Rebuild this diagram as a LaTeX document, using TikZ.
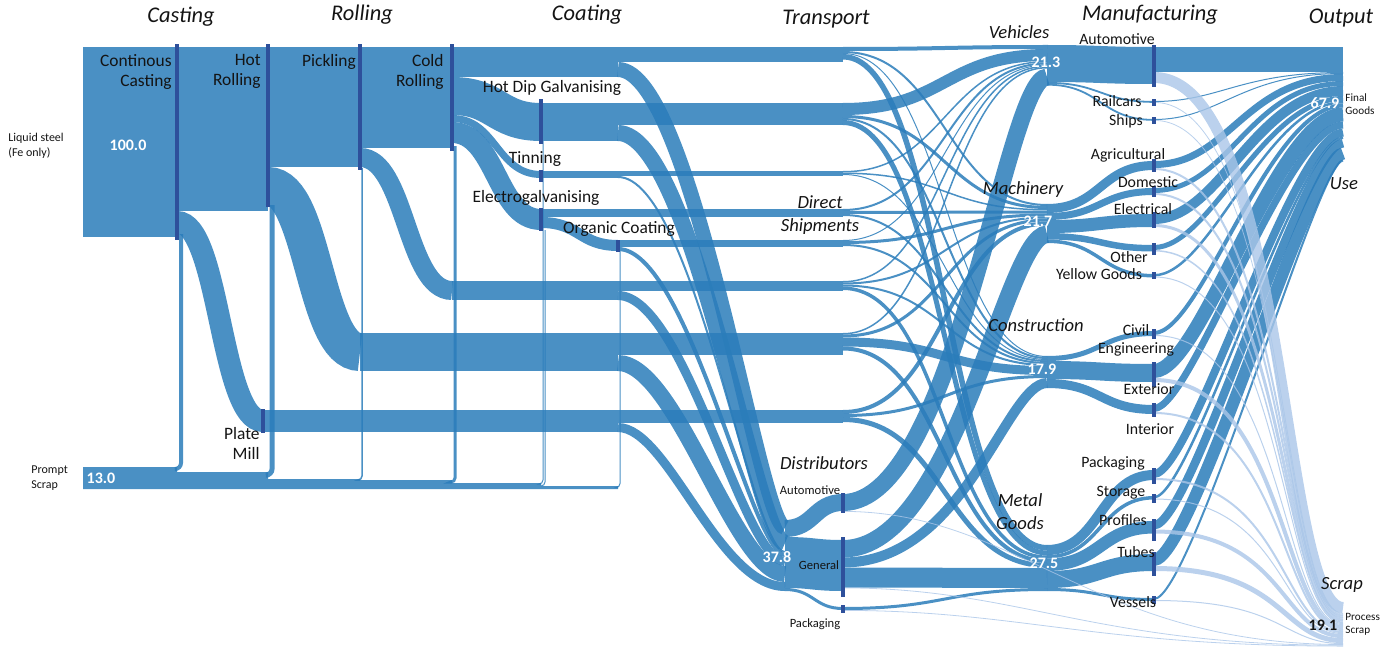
\documentclass[tikz,border=0pt]{standalone}
\usepackage{fontspec}
\setmainfont{Carlito}
\definecolor{fcol}{RGB}{42,124,186}
\definecolor{scol}{RGB}{170,198,232}
\definecolor{barc}{RGB}{46,80,155}
\definecolor{txt}{RGB}{20,20,20}
\newcommand\setnd[4]{%
 \expandafter\xdef\csname sk@X@#1\endcsname{#2}%
 \expandafter\xdef\csname sk@I@#1\endcsname{#3}%
 \expandafter\xdef\csname sk@O@#1\endcsname{#4}}
\newcommand\Fk[6][bf]{%
 \pgfmathsetmacro\skya{\csname sk@O@#2\endcsname+#4/2}%
 \pgfmathsetmacro\skyb{\csname sk@I@#3\endcsname+#4/2}%
 \pgfmathsetmacro\skTa{\csname sk@O@#2\endcsname+#4}%
 \expandafter\xdef\csname sk@O@#2\endcsname{\skTa}%
 \pgfmathsetmacro\skTb{\csname sk@I@#3\endcsname+#4}%
 \expandafter\xdef\csname sk@I@#3\endcsname{\skTb}%
 \edef\skxa{\csname sk@X@#2\endcsname}\edef\skxb{\csname sk@X@#3\endcsname}%
 \pgfmathsetmacro\skca{\skxa+#5*(\skxb-\skxa)}%
 \pgfmathsetmacro\skcb{\skxb-#6*(\skxb-\skxa)}%
 \pgfmathsetmacro\sklw{#4*0.5}%
 \draw[#1,line width=\sklw pt] (\skxa,\skya) .. controls (\skca,\skya) and (\skcb,\skyb) .. (\skxb,\skyb);}
\newcommand\F[4][bf]{\Fk[#1]{#2}{#3}{#4}{0.5}{0.5}}
\newcommand\skFG[4]{%
 \pgfmathsetmacro\skkb{0.13+0.42*(161-(\csname sk@I@#2\endcsname+#3/2))/89}%
 \Fk{#1}{#2}{#3}{#4}{\skkb}}
\newcommand\skSC[3]{\Fk[sf]{#1}{#2}{#3}{0.7}{0.33}}
\newcommand\mbar[4]{%
 \pgfmathsetmacro\skh{(#4-#3)*0.5}\pgfmathsetmacro\skm{(#4+#3)/2}%
 \node[barn,minimum height=\skh pt] (#1) at (#2,\skm) {};}
\begin{document}
\begin{tikzpicture}[x=0.5pt,y=-0.5pt,
  bf/.style={draw=fcol,opacity=0.85},
  bfill/.style={fill=fcol,opacity=0.85},
  sf/.style={draw=scol,opacity=0.8},
  barn/.style={fill=barc,draw=none,inner sep=0pt,minimum width=2pt,rectangle},
  hdr/.style={font=\fontsize{11.2}{12}\selectfont\itshape,text=txt,inner sep=0pt},
  sec/.style={font=\fontsize{9.3}{11.5}\selectfont\itshape,text=txt,inner sep=0pt,align=center},
  lab/.style={font=\fontsize{8.7}{10}\selectfont,text=txt,inner sep=0pt},
  mlab/.style={font=\fontsize{7.9}{9}\selectfont,text=txt,inner sep=0pt,align=center},
  sml/.style={font=\fontsize{6}{7.5}\selectfont,text=txt,inner sep=0pt,align=left},
  smlb/.style={font=\fontsize{5.6}{6.5}\selectfont,text=txt,inner sep=0pt,align=left},
  num/.style={font=\fontsize{8}{9}\selectfont\bfseries,text=white,inner sep=0pt}]
\useasboundingbox (0,0) rectangle (1391,647);
% ---------- nodes (x, in-top, out-top)
\setnd{LS}{83}{0}{47}
\setnd{CC}{177}{47}{47}
\setnd{HR}{268}{47}{47}
\setnd{PM}{263}{410}{410}
\setnd{PK}{360}{47}{47}
\setnd{HRB}{360}{333}{333}
\setnd{CR}{452}{47}{47}
\setnd{PKB}{452}{281}{281}
\setnd{HDG}{541}{103}{103}
\setnd{TIN}{541}{171}{171}
\setnd{EG}{541}{209}{209}
\setnd{OC}{618}{240}{240}
\setnd{CB}{618}{47}{47}
\setnd{HB}{618}{103}{103}
\setnd{TB}{618}{171}{171}
\setnd{PKC}{618}{281}{281}
\setnd{HRC}{618}{333}{333}
\setnd{PB}{618}{410}{410}
\setnd{DI}{785}{520}{520}
\setnd{T1}{843}{47}{47}
\setnd{T2}{843}{103}{103}
\setnd{T3}{843}{171}{171}
\setnd{T4}{843}{209}{209}
\setnd{T5}{843}{240}{240}
\setnd{T6}{843}{281}{281}
\setnd{T7}{843}{333}{333}
\setnd{T8}{843}{410}{410}
\setnd{DA}{843}{494}{494}
\setnd{DG}{843}{540}{540}
\setnd{DP}{843}{607}{607}
\setnd{V}{1047}{45}{45}
\setnd{M}{1047}{204}{204}
\setnd{C}{1047}{356}{356}
\setnd{MG}{1047}{545}{545}
\setnd{AU}{1154}{47}{47}
\setnd{RA}{1154}{101}{101}
\setnd{SH}{1154}{119}{119}
\setnd{AG}{1154}{161}{161}
\setnd{DO}{1154}{188}{188}
\setnd{EL}{1154}{214}{214}
\setnd{OT}{1154}{245}{245}
\setnd{YG}{1154}{274}{274}
\setnd{CE}{1154}{331}{331}
\setnd{EX}{1154}{364}{364}
\setnd{IN}{1154}{405}{405}
\setnd{PA}{1154}{470}{470}
\setnd{ST}{1154}{496}{496}
\setnd{PR}{1154}{521}{521}
\setnd{TU}{1154}{554}{554}
\setnd{VE}{1154}{598}{598}
\setnd{FG}{1343}{47}{0}
\setnd{SC}{1343}{602}{0}
% ---------- prompt scrap band and scrap returns
\fill[bfill] (83,467) -- (177,467) -- (177,472) -- (268,472) -- (268,479) -- (360,479) -- (360,480)
  -- (452,480) -- (452,483) -- (541,483) -- (541,486) -- (618,486) -- (618,489) -- (83,489) -- cycle;
\draw[bf,line width=2pt,rounded corners=3pt] (181,234) -- (181,469) -- (177,469);
\draw[bf,line width=2.5pt,rounded corners=3pt] (272,205) -- (272,475) -- (268,475);
\draw[bf,line width=0.75pt,rounded corners=2pt] (362,168) -- (362,480) -- (360,480);
\draw[bf,line width=1.5pt,rounded corners=2pt] (455,146) -- (455,482) -- (452,482);
\draw[bf,line width=0.5pt,rounded corners=2pt] (543,141) -- (543,484) -- (541,484);
\draw[bf,line width=0.5pt,rounded corners=2pt] (545,230) -- (545,486) -- (541,486);
\draw[bf,line width=0.5pt,rounded corners=2pt] (620,251) -- (620,487.5) -- (618,487.5);
% ---------- casting, rolling, coating
\F{LS}{CC}{190}
\F{CC}{HR}{164}
\F{CC}{PM}{22}
\F{HR}{PK}{120}
\F{HR}{HRB}{38}
\F{PK}{CR}{101}
\F{PK}{PKB}{19}
\F{HRB}{HRC}{38}
\F{PKB}{PKC}{19}
\F{PM}{PB}{22}
\F{CR}{CB}{30}
\F{CR}{HDG}{38}
\F{CR}{TIN}{7}
\F{CR}{EG}{21}
\F{HDG}{HB}{38}
\F{TIN}{TB}{7}
\F{EG}{T4}{8}
\F{EG}{OC}{11}
\F{CB}{T1}{15}
\F{HB}{T2}{22}
\F{TB}{T3}{5}
\F{OC}{T5}{7}
\F{PKC}{T6}{10}
\F{HRC}{T7}{22}
\F{PB}{T8}{13}
% ---------- to distributors
\Fk{CB}{DI}{15}{0.45}{0.15}
\Fk{HB}{DI}{16}{0.45}{0.17}
\Fk{TB}{DI}{2}{0.45}{0.2}
\Fk{OC}{DI}{4}{0.42}{0.2}
\Fk{PKC}{DI}{9}{0.4}{0.25}
\Fk{HRC}{DI}{16}{0.35}{0.3}
\Fk{PB}{DI}{9}{0.3}{0.4}
\F{DI}{DA}{17}
\F{DI}{DG}{51}
\F{DI}{DP}{3}
% ---------- to sectors
\F{T1}{V}{4}
\F{T2}{V}{12}
\F{T3}{V}{1.5}
\F{T4}{V}{2}
\F{T5}{V}{1}
\F{T6}{V}{1.5}
\F{T7}{V}{1.5}
\Fk{DA}{V}{17}{0.55}{0.2}
\F{T1}{M}{2}
\F{T2}{M}{3}
\F{T3}{M}{1.5}
\F{T4}{M}{3}
\F{T5}{M}{3}
\F{T6}{M}{2}
\F{T7}{M}{3}
\F{T8}{M}{4}
\Fk{DG}{M}{17.5}{0.55}{0.2}
\F{T1}{C}{1}
\F{T2}{C}{2}
\F{T3}{C}{1}
\F{T4}{C}{2}
\F{T5}{C}{2}
\F{T6}{C}{2}
\F{T7}{C}{9}
\F{T8}{C}{3}
\Fk{DG}{C}{10}{0.6}{0.2}
\F{T1}{MG}{5.5}
\F{T2}{MG}{5}
\F{T6}{MG}{3.5}
\F{T7}{MG}{4}
\F{T8}{MG}{5}
\F{DG}{MG}{20}
\F{DP}{MG}{3}
% ---------- to manufacturing
\F{V}{AU}{37}
\F{V}{RA}{1.8}
\F{V}{SH}{1.8}
\F{M}{AG}{9}
\F{M}{DO}{7}
\F{M}{EL}{13}
\F{M}{OT}{6.5}
\F{M}{YG}{3.5}
\F{C}{CE}{5}
\F{C}{EX}{18}
\F{C}{IN}{9}
\F{MG}{PA}{10}
\F{MG}{ST}{3.5}
\F{MG}{PR}{12.5}
\F{MG}{TU}{17}
\F{MG}{VE}{3}
% ---------- to final goods
\F{AU}{FG}{25}
\skFG{RA}{FG}{1}{0.35}
\skFG{SH}{FG}{1}{0.35}
\skFG{AG}{FG}{7}{0.4}
\skFG{DO}{FG}{5}{0.4}
\skFG{EL}{FG}{10}{0.35}
\skFG{OT}{FG}{5}{0.3}
\skFG{YG}{FG}{2.5}{0.3}
\skFG{CE}{FG}{4}{0.25}
\skFG{EX}{FG}{14}{0.25}
\skFG{IN}{FG}{7}{0.2}
\skFG{PA}{FG}{8}{0.2}
\skFG{ST}{FG}{2.5}{0.2}
\skFG{PR}{FG}{8.5}{0.2}
\skFG{TU}{FG}{12}{0.2}
\skFG{VE}{FG}{2}{0.2}
% ---------- to process scrap
\skSC{AU}{SC}{11}
\skSC{RA}{SC}{0.8}
\skSC{SH}{SC}{0.8}
\skSC{AG}{SC}{2}
\skSC{DO}{SC}{2}
\skSC{EL}{SC}{3}
\skSC{OT}{SC}{1.5}
\skSC{YG}{SC}{1}
\skSC{CE}{SC}{1}
\skSC{EX}{SC}{4}
\skSC{IN}{SC}{2}
\skSC{PA}{SC}{2}
\skSC{ST}{SC}{1}
\skSC{PR}{SC}{4}
\skSC{TU}{SC}{5}
\skSC{VE}{SC}{1}
\Fk[sf]{DA}{SC}{0.8}{0.35}{0.5}
\Fk[sf]{DG}{SC}{0.8}{0.35}{0.5}
\Fk[sf]{DP}{SC}{0.8}{0.35}{0.5}
% ---------- process bars
\mbar{bCC}{177}{44}{240}
\mbar{bHR}{268}{44}{207}
\mbar{bPM}{263}{409}{433}
\mbar{bPK}{360}{44}{170}
\mbar{bCR}{452}{44}{151}
\mbar{bHDG}{541}{99}{144}
\mbar{bTIN}{541}{170}{182}
\mbar{bEG}{541}{208}{231}
\mbar{bOC}{618}{240}{252}
\mbar{bDA}{843}{493}{513}
\mbar{bDG}{843}{537}{597}
\mbar{bDP}{843}{605}{613}
\mbar{bAU}{1154}{45}{87}
\mbar{bRA}{1154}{99}{106}
\mbar{bSH}{1154}{117}{124}
\mbar{bAG}{1154}{159}{172}
\mbar{bDO}{1154}{186}{197}
\mbar{bEL}{1154}{212}{228}
\mbar{bOT}{1154}{243}{255}
\mbar{bYG}{1154}{272}{279}
\mbar{bCE}{1154}{329}{339}
\mbar{bEX}{1154}{362}{387}
\mbar{bIN}{1154}{403}{417}
\mbar{bPA}{1154}{468}{484}
\mbar{bST}{1154}{494}{503}
\mbar{bPR}{1154}{519}{541}
\mbar{bTU}{1154}{552}{576}
\mbar{bVE}{1154}{596}{604}
% ---------- headers
\node[hdr] (hCast) at (181,17) {Casting};
\node[hdr] (hRoll) at (362,15) {Rolling};
\node[hdr] (hCoat) at (587,15) {Coating};
\node[hdr] (hTrans) at (826,19) {Transport};
\node[hdr] (hManu) at (1150,15) {Manufacturing};
\node[hdr] (hOut) at (1341,18) {Output};
% ---------- sector labels
\node[sec] (lVeh) at (1019,32) {Vehicles};
\node[sec] (lMach) at (1023,190) {Machinery};
\node[sec] (lCons) at (1036,325) {Construction};
\node[sec] (lMetal) at (1020,511.5) {Metal\\Goods};
\node[sec] (lDirect) at (820,215.5) {Direct\\Shipments};
\node[sec] (lDist) at (824,463) {Distributors};
\node[sec] (lUse) at (1344,184) {Use};
\node[sec] (lScrap) at (1342,585) {Scrap};
% ---------- process labels
\node[lab,align=right,anchor=east] (lCC) at (172,72) {Continous\\Casting};
\node[lab,align=right,anchor=east] (lHR) at (261,71.5) {Hot\\Rolling};
\node[lab] (lPK) at (329,62) {Pickling};
\node[lab,align=right,anchor=east] (lCR) at (444,72) {Cold\\Rolling};
\node[lab] (lHDG) at (552,88) {Hot Dip Galvanising};
\node[lab] (lTIN) at (535,159) {Tinning};
\node[lab] (lEG) at (536,198) {Electrogalvanising};
\node[lab] (lOC) at (619,229) {Organic Coating};
\node[lab,align=right,anchor=east] (lPM) at (260,443.5) {Plate\\Mill};
% ---------- manufacturing labels
\node[mlab] (lAU) at (1117,39) {Automotive};
\node[mlab] (lRA) at (1117,101) {Railcars};
\node[mlab] (lSH) at (1126,121) {Ships};
\node[mlab] (lAG) at (1128,155) {Agricultural};
\node[mlab] (lDO) at (1148,182) {Domestic};
\node[mlab] (lEL) at (1143,209) {Electrical};
\node[mlab] (lOT) at (1129,257) {Other};
\node[mlab] (lYG) at (1099,274) {Yellow Goods};
\node[mlab] (lCE) at (1136,340) {Civil\\Engineering};
\node[mlab] (lEX) at (1149,389) {Exterior};
\node[mlab] (lIN) at (1150,429) {Interior};
\node[mlab] (lPA) at (1113,463) {Packaging};
\node[mlab] (lST) at (1121,493) {Storage};
\node[mlab] (lPR) at (1123,520) {Profiles};
\node[mlab] (lTU) at (1136,552) {Tubes};
\node[mlab] (lVE) at (1133,602) {Vessels};
% ---------- distributor labels
\node[sml,font=\fontsize{6.3}{7.5}\selectfont] (lDA) at (810,490) {Automotive};
\node[sml,font=\fontsize{6.3}{7.5}\selectfont] (lDG) at (819,565) {General};
\node[sml,font=\fontsize{6.3}{7.5}\selectfont] (lDP) at (815,624) {Packaging};
% ---------- small side labels
\node[sml,anchor=west] (lLS) at (8,145.5) {Liquid steel\\(Fe only)};
\node[sml,anchor=west] (lPS) at (31,478) {Prompt\\Scrap};
\node[smlb,anchor=west] (lFG) at (1345,104.5) {Final\\Goods};
\node[smlb,anchor=west] (lPSc) at (1345,624.5) {Process\\Scrap};
% ---------- values
\node[num] (v100) at (128,145) {100.0};
\node[num] (v13) at (101,478) {13.0};
\node[num] (v213) at (1046,62) {21.3};
\node[num] (v217) at (1038,221) {21.7};
\node[num] (v179) at (1042,369) {17.9};
\node[num] (v275) at (1044,563) {27.5};
\node[num] (v378) at (777,557) {37.8};
\node[num] (v679) at (1325,103) {67.9};
\node[num,text=txt] (v191) at (1323,625) {19.1};
\end{tikzpicture}
\end{document}
